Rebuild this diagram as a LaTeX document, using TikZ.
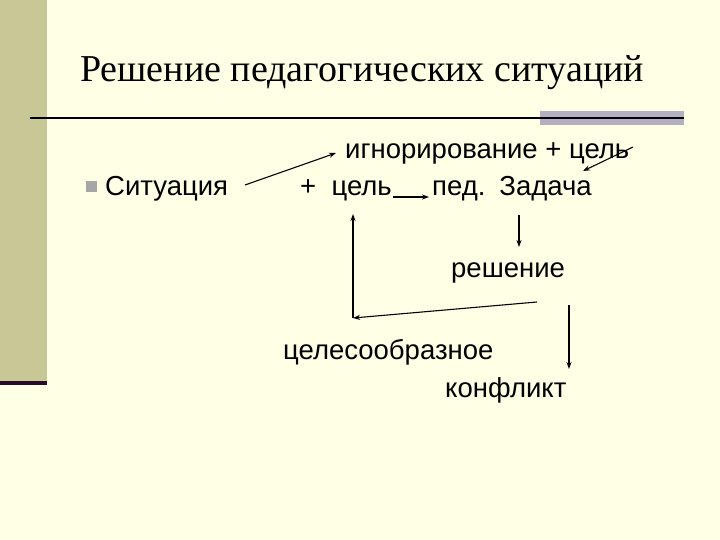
\documentclass[tikz,border=0pt]{standalone}
\usepackage{fontspec}
\setmainfont{Liberation Serif}
\newfontfamily\sansf{Liberation Sans}
\usetikzlibrary{arrows.meta}
\definecolor{bg}{HTML}{FFFFE5}
\definecolor{barc}{HTML}{C8C896}
\definecolor{darkp}{HTML}{2A0A2A}
\definecolor{greyb}{HTML}{B4B0C0}
\begin{document}
\begin{tikzpicture}[x=1pt,y=-1pt,
  txt/.style={font=\sansf\fontsize{27.5}{30}\selectfont, inner sep=0pt, anchor=base west},
  arr/.style={-{Stealth[length=7pt,width=5pt]}, line width=1.1pt}]
\fill[bg] (0,0) rectangle (720,540);
\useasboundingbox (0,0) rectangle (720,540);
\fill[barc] (0,0) rectangle (47,381);
\fill[darkp] (0,381) rectangle (47,385);
\fill[greyb] (540,111) rectangle (684,125);
\draw[line width=1.3pt] (30,118) -- (684,118);
\node[font=\fontsize{38}{42}\selectfont, inner sep=0pt, anchor=base west] (title) at (80,82) {Решение педагогических ситуаций};
\fill[gray!70] (86,181) rectangle (97,192);
\node[txt] (sit) at (105,196) {Ситуация};
\node[txt] (ign) at (345,159) {игнорирование + цель};
\node[txt] (cel) at (300,196) {+ \ цель};
\node[txt] (ped) at (432,196) {пед.\hspace{14pt}Задача};
\node[txt] (res) at (451,277) {решение};
\node[txt] (cs) at (283,359) {целесообразное};
\node[txt] (kon) at (445,397) {конфликт};
\coordinate (a1) at (245,185); \coordinate (a2) at (336,153);
\draw[arr] (a1) -- (a2);
\coordinate (b1) at (633,147); \coordinate (b2) at (583,171);
\draw[arr] (b1) -- (b2);
\coordinate (c1) at (393,197); \coordinate (c2) at (429,197);
\draw[arr] (c1) -- (c2);
\coordinate (d1) at (519,215); \coordinate (d2) at (519,247);
\draw[arr] (d1) -- (d2);
\coordinate (e1) at (537,302); \coordinate (e2) at (353,318); \coordinate (e3) at (353,214);
\draw[arr] (e1) -- (e2);
\draw[arr] (e2) -- (e3);
\coordinate (f1) at (569,305); \coordinate (f2) at (569,369);
\draw[arr] (f1) -- (f2);
\end{tikzpicture}
\end{document}
